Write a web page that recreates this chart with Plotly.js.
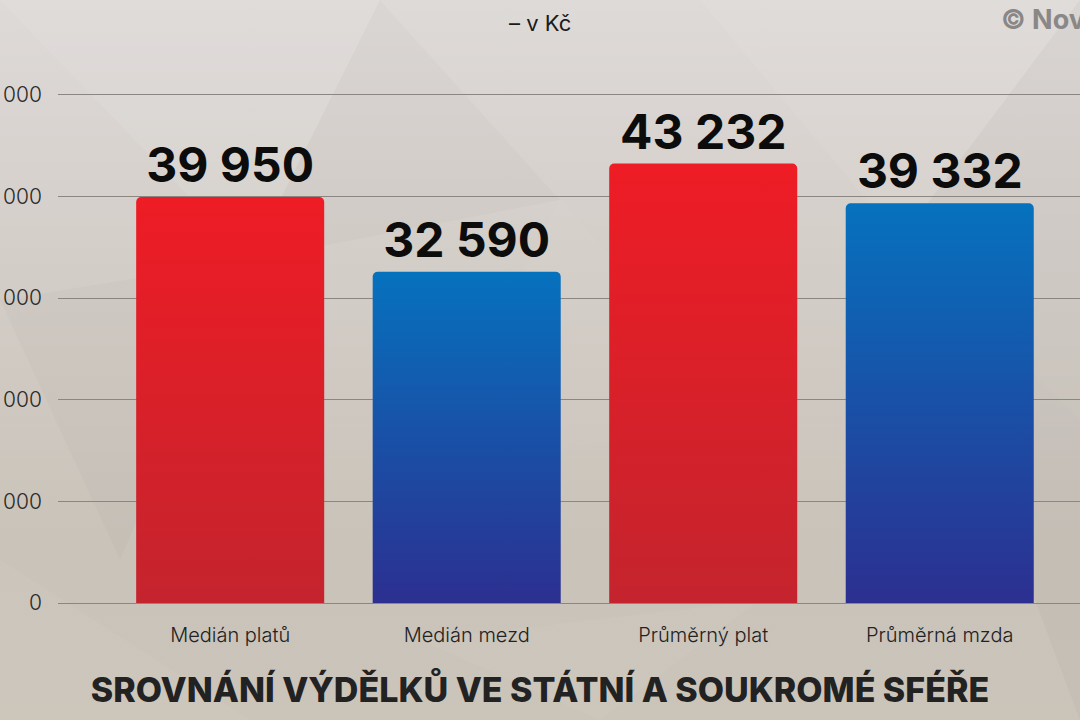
<!DOCTYPE html>
<html>
<head>
<meta charset="utf-8">
<script src="https://cdn.plot.ly/plotly-3.0.1.min.js"></script>
<style>
  html, body { margin: 0; padding: 0; width: 1080px; height: 720px; overflow: hidden; }
  body {
    background: linear-gradient(180deg, #dedad8 0%, #d4cec9 35%, #cac3b9 75%, #cbc4b9 100%);
  }
  #bgtri { position: absolute; left: 0; top: 0; width: 1080px; height: 720px; }
  #chart { position: absolute; left: 0; top: 0; width: 1080px; height: 720px; }
</style>
</head>
<body>
<svg id="bgtri" viewBox="0 0 1080 720">
  <polygon points="0,0 380,0 250,260" fill="#ffffff" opacity="0.07"/>
  <polygon points="250,260 380,0 560,200" fill="#000000" opacity="0.015"/>
  <polygon points="700,0 1080,0 900,240" fill="#ffffff" opacity="0.06"/>
  <polygon points="900,240 1080,0 1080,420" fill="#6a5a70" opacity="0.04"/>
  <polygon points="1080,420 900,240 1080,720" fill="#6a5a70" opacity="0.05"/>
  <polygon points="0,300 250,260 120,560" fill="#000000" opacity="0.015"/>
  <polygon points="0,560 250,720 0,720" fill="#ffffff" opacity="0.04"/>
  <polygon points="560,200 760,420 420,470" fill="#ffffff" opacity="0.03"/>
  <polygon points="420,640 760,600 600,720" fill="#ffffff" opacity="0.04"/>
</svg>
<div id="chart"></div>
<script>
const categories = ["Medián platů", "Medián mezd", "Průměrný plat", "Průměrná mzda"];
const values = [39950, 32590, 43232, 39332];
const sector = ["stat", "soukr", "stat", "soukr"];
const tickValues = [0, 10000, 20000, 30000, 40000, 50000];
const tickLabels = ["0", "10 000", "20 000", "30 000", "40 000", "50 000"];
const subtitle = "– v Kč";
const titleText = "SROVNÁNÍ VÝDĚLKŮ VE STÁTNÍ A SOUKROMÉ SFÉŘE";
const credit = "© Novinky.cz";

const baseColors = sector.map(s => s === "stat" ? "#e31f27" : "#0f5fb0");

const trace = {
  type: "bar",
  x: categories,
  y: values,
  marker: { color: baseColors, cornerradius: 5, line: { width: 0 } },
  width: 0.795,
  text: values.map(v => String(v).replace(/\B(?=(\d{3})+(?!\d))/g, " ")),
  texttemplate: "%{text}",
  textposition: "outside",
  cliponaxis: false,
  textfont: { family: "Inter, 'Liberation Sans', sans-serif", size: 48, weight: 700, color: "#0c0c0c" },
  hoverinfo: "skip"
};

const layout = {
  width: 1080,
  height: 720,
  margin: { l: 58, r: 0, t: 44, b: 117 },
  paper_bgcolor: "rgba(0,0,0,0)",
  plot_bgcolor: "rgba(0,0,0,0)",
  showlegend: false,
  separators: ", ",
  font: { family: "Inter, 'Liberation Sans', sans-serif", color: "#222" },
  title: {
    text: titleText,
    font: { family: "Inter, 'Liberation Sans', sans-serif", size: 34, weight: 800, color: "#222222" },
    x: 0.5, xanchor: "center", xref: "container",
    y: 0.042, yanchor: "middle", yref: "container"
  },
  xaxis: {
    type: "category",
    range: [-0.728, 3.593],
    showgrid: false,
    zeroline: false,
    showline: false,
    ticks: "",
    ticklabelstandoff: 18,
    tickfont: { family: "Inter, 'Liberation Sans', sans-serif", size: 20, weight: 300, color: "#222" },
    fixedrange: true
  },
  yaxis: {
    range: [0, 55000],
    tickvals: tickValues,
    ticktext: tickLabels,
    showgrid: true,
    gridcolor: "#8c8682",
    gridwidth: 1,
    zeroline: true,
    zerolinecolor: "#8c8682",
    zerolinewidth: 1,
    showline: false,
    ticks: "",
    ticklabelstandoff: 15,
    tickfont: { family: "Inter, 'Liberation Sans', sans-serif", size: 21, weight: 300, color: "#2a2a2a" },
    fixedrange: true
  },
  annotations: [
    {
      text: subtitle, xref: "paper", yref: "paper",
      x: (540 - 58) / 1022, y: (603 - 23) / 559, xanchor: "center", yanchor: "middle",
      showarrow: false,
      font: { family: "Inter, 'Liberation Sans', sans-serif", size: 22, weight: 400, color: "#1a1a1a" }
    },
    {
      text: credit, xref: "paper", yref: "paper",
      x: (999 - 58) / 1022, y: (603 - 20) / 559, xanchor: "left", yanchor: "middle",
      showarrow: false,
      font: { family: "Inter, 'Liberation Sans', sans-serif", size: 27, weight: 700, color: "#8a8786" }
    }
  ]
};

Plotly.newPlot("chart", [trace], layout, { staticPlot: true, displayModeBar: false }).then(gd => {
  const NS = "http://www.w3.org/2000/svg";
  const svg = gd.querySelector(".main-svg");
  let defs = svg.querySelector("defs");
  if (!defs) { defs = document.createElementNS(NS, "defs"); svg.insertBefore(defs, svg.firstChild); }
  function grad(id, top, bottom) {
    const g = document.createElementNS(NS, "linearGradient");
    g.setAttribute("id", id);
    g.setAttribute("x1", "0"); g.setAttribute("y1", "0");
    g.setAttribute("x2", "0"); g.setAttribute("y2", "1");
    const s1 = document.createElementNS(NS, "stop");
    s1.setAttribute("offset", "0"); s1.setAttribute("stop-color", top);
    const s2 = document.createElementNS(NS, "stop");
    s2.setAttribute("offset", "1"); s2.setAttribute("stop-color", bottom);
    g.appendChild(s1); g.appendChild(s2);
    defs.appendChild(g);
  }
  grad("gradStat", "#ee1c25", "#c4242e");
  grad("gradSoukr", "#0672be", "#2c2f90");
  const paths = gd.querySelectorAll(".trace.bars .point path");
  paths.forEach((p, i) => {
    p.style.fill = sector[i] === "stat" ? "url(#gradStat)" : "url(#gradSoukr)";
  });
});
</script>
</body>
</html>
